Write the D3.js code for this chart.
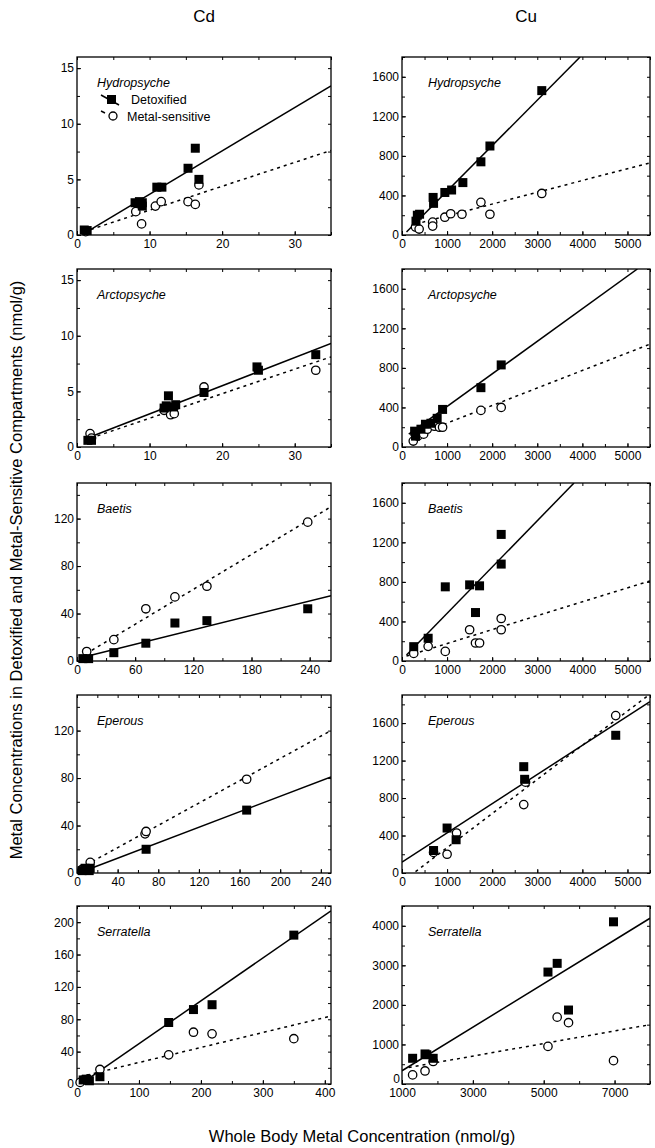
<!DOCTYPE html>
<html>
<head>
<meta charset="utf-8">
<script src="https://cdn.jsdelivr.net/npm/d3@7"></script>
<style>
  body { margin: 0; background: #fff; }
  svg text { font-family: Arial, "Liberation Sans", sans-serif; fill: #000; }
</style>
</head>
<body>
<div id="chart"></div>
<script>
// column / row labels
var metals = ["Cd", "Cu"];
var species = ["Hydropsyche", "Arctopsyche", "Baetis", "Eperous", "Serratella"];

// ---- Cd data ----
var hydroCdDetox = [[1,0.45],[1.4,0.4],[8,2.9],[8.6,3.0],[9,2.6],[9,2.9],[11,4.3],[11.7,4.3],[15.3,6.0],[16.3,7.8],[16.8,5.0]];
var hydroCdSens  = [[1.2,0.3],[8.1,2.1],[8.9,1.0],[10.8,2.6],[11.6,3.0],[15.3,3.0],[16.3,2.75],[16.8,4.5]];
var hydroCdDetoxLine = [[1,0.15],[35,13.4]];
var hydroCdSensLine  = [[1,0.3],[35,7.6]];

var arctoCdDetox = [[1.5,0.6],[2,0.6],[12,3.5],[12.3,3.7],[12.6,4.6],[13.3,3.6],[13.6,3.8],[17.5,4.9],[24.8,7.2],[25,6.9],[32.9,8.3]];
var arctoCdSens  = [[1.8,1.2],[2,0.8],[12,3.3],[12.9,2.9],[13.4,3.0],[17.5,5.4],[24.9,7.0],[32.9,6.9]];
var arctoCdDetoxLine = [[1,0.7],[35,9.3]];
var arctoCdSensLine  = [[1,0.6],[35,8.1]];

var baetisCdDetox = [[6,2],[12,2],[38,7],[71,15],[101,32],[134,34],[238,44]];
var baetisCdSens  = [[10,8],[38,18],[71,44],[101,54],[134,63],[238,117]];
var baetisCdDetoxLine = [[5,3],[262,55]];
var baetisCdSensLine  = [[3,3],[262,130]];

var eperCdDetox = [[5,2],[8,4],[12,2],[13,4],[68,20],[167,53]];
var eperCdSens  = [[5,3],[13,9],[67,33],[68,35],[167,79]];
var eperCdDetoxLine = [[5,1],[250,81]];
var eperCdSensLine  = [[3,4],[250,120]];

var serrCdDetox = [[10,5],[15,6],[20,4],[37,9],[148,76],[188,92],[218,98],[350,184]];
var serrCdSens  = [[5,2],[18,6],[37,18],[148,36],[188,64],[218,62],[350,56]];
var serrCdDetoxLine = [[8,1],[410,214]];
var serrCdSensLine  = [[5,9],[410,84]];

// ---- Cu data ----
var hydroCuDetox = [[310,140],[340,200],[390,210],[690,380],[700,320],[950,430],[1100,455],[1350,530],[1750,740],[1950,900],[3100,1460]];
var hydroCuSens  = [[300,80],[380,60],[680,130],[680,90],[950,180],[1080,215],[1330,210],[1750,330],[1950,210],[3100,420]];
var hydroCuDetoxLine = [[100,30],[3950,1800]];
var hydroCuSensLine  = [[300,110],[5500,730]];

var arctoCuDetox = [[280,160],[300,110],[420,180],[520,230],[640,240],[780,290],[900,380],[1750,600],[2200,830]];
var arctoCuSens  = [[250,60],[350,110],[480,130],[560,180],[720,210],[830,200],[900,200],[1750,370],[2200,400]];
var arctoCuDetoxLine = [[150,130],[5220,1800]];
var arctoCuSensLine  = [[200,100],[5500,1040]];

var baetisCuDetox = [[260,145],[580,230],[960,750],[1500,770],[1720,760],[1630,490],[2200,1280],[2200,980]];
var baetisCuSens  = [[260,77],[580,148],[960,97],[1500,316],[1630,182],[1720,182],[2200,430],[2200,316]];
var baetisCuDetoxLine = [[100,60],[3815,1800]];
var baetisCuSensLine  = [[100,50],[5500,810]];

var eperCuDetox = [[700,240],[1000,480],[1200,355],[2700,1135],[2720,1000],[4740,1470]];
var eperCuSens  = [[700,220],[1000,200],[1210,427],[2700,730],[2740,970],[4740,1680]];
var eperCuDetoxLine = [[0,117],[5500,1830]];
var eperCuSensLine  = [[300,15],[5500,1910]];

var serrCuDetox = [[1300,650],[1650,760],[1700,740],[1880,650],[5120,2830],[5380,3050],[5700,1870],[6970,4100]];
var serrCuSens  = [[1300,230],[1650,330],[1880,570],[5120,950],[5380,1690],[5700,1550],[6970,590]];
var serrCuDetoxLine = [[1000,335],[8000,4190]];
var serrCuSensLine  = [[1190,418],[8000,1500]];

// ---- axis domains and tick labels ----
var cdSmallDomainX = [0,35],  cdSmallDomainY = [0,16];
var cdSmallTicksX = [0,10,20,30], cdSmallTicksY = [0,5,10,15];
var baetisCdDomainX = [0,262], eperCdDomainX = [0,250], cdMidDomainY = [0,150];
var baetisCdTicksX = [0,60,120,180,240];
var eperCdTicksX = [0,40,80,120,160,200,240];
var cdMidTicksY = [0,40,80,120];
var serrCdDomainX = [0,410], serrCdDomainY = [0,220];
var serrCdTicksX = [0,100,200,300,400], serrCdTicksY = [0,40,80,120,160,200];
var cuDomainX = [0,5500], cuDomainY = [0,1800], eperCuDomainY = [0,1900];
var cuTicksX = [0,1000,2000,3000,4000,5000], cuTicksY = [0,400,800,1200,1600];
var serrCuDomainX = [1000,8000], serrCuDomainY = [0,4500];
var serrCuTicksX = [1000,3000,5000,7000], serrCuTicksY = [0,1000,2000,3000,4000];

var panels = [
  {col:0,row:0,xd:cdSmallDomainX,yd:cdSmallDomainY,xt:cdSmallTicksX,yt:cdSmallTicksY,xm:5,ym:2.5,
   detox:hydroCdDetox,sens:hydroCdSens,dl:hydroCdDetoxLine,sl:hydroCdSensLine,legend:true},
  {col:1,row:0,xd:cuDomainX,yd:cuDomainY,xt:cuTicksX,yt:cuTicksY,xm:500,ym:200,
   detox:hydroCuDetox,sens:hydroCuSens,dl:hydroCuDetoxLine,sl:hydroCuSensLine},
  {col:0,row:1,xd:cdSmallDomainX,yd:cdSmallDomainY,xt:cdSmallTicksX,yt:cdSmallTicksY,xm:5,ym:2.5,
   detox:arctoCdDetox,sens:arctoCdSens,dl:arctoCdDetoxLine,sl:arctoCdSensLine},
  {col:1,row:1,xd:cuDomainX,yd:cuDomainY,xt:cuTicksX,yt:cuTicksY,xm:500,ym:200,
   detox:arctoCuDetox,sens:arctoCuSens,dl:arctoCuDetoxLine,sl:arctoCuSensLine},
  {col:0,row:2,xd:baetisCdDomainX,yd:cdMidDomainY,xt:baetisCdTicksX,yt:cdMidTicksY,xm:30,ym:20,
   detox:baetisCdDetox,sens:baetisCdSens,dl:baetisCdDetoxLine,sl:baetisCdSensLine},
  {col:1,row:2,xd:cuDomainX,yd:cuDomainY,xt:cuTicksX,yt:cuTicksY,xm:500,ym:200,
   detox:baetisCuDetox,sens:baetisCuSens,dl:baetisCuDetoxLine,sl:baetisCuSensLine},
  {col:0,row:3,xd:eperCdDomainX,yd:cdMidDomainY,xt:eperCdTicksX,yt:cdMidTicksY,xm:20,ym:20,
   detox:eperCdDetox,sens:eperCdSens,dl:eperCdDetoxLine,sl:eperCdSensLine},
  {col:1,row:3,xd:cuDomainX,yd:eperCuDomainY,xt:cuTicksX,yt:cuTicksY,xm:500,ym:200,
   detox:eperCuDetox,sens:eperCuSens,dl:eperCuDetoxLine,sl:eperCuSensLine},
  {col:0,row:4,xd:serrCdDomainX,yd:serrCdDomainY,xt:serrCdTicksX,yt:serrCdTicksY,xm:50,ym:20,
   detox:serrCdDetox,sens:serrCdSens,dl:serrCdDetoxLine,sl:serrCdSensLine},
  {col:1,row:4,xd:serrCuDomainX,yd:serrCuDomainY,xt:serrCuTicksX,yt:serrCuTicksY,xm:1000,ym:500,
   detox:serrCuDetox,sens:serrCuSens,dl:serrCuDetoxLine,sl:serrCuSensLine,liftZero:true}
];

// layout
var colLeft = [77, 402], panelW = [254, 248];
var rowTop = [57, 269, 483, 695, 906], panelH = 178;

var svg = d3.select("#chart").append("svg")
    .attr("width", 655)
    .attr("height", 1148);

// column titles
metals.forEach(function(m, i) {
  svg.append("text")
    .attr("x", colLeft[i] + panelW[i] / 2)
    .attr("y", 22)
    .attr("text-anchor", "middle")
    .style("font-size", "17px")
    .text(m);
});

// axis titles
svg.append("text")
  .attr("transform", "translate(22,570) rotate(-90)")
  .attr("text-anchor", "middle")
  .style("font-size", "16.5px")
  .text("Metal Concentrations in Detoxified and Metal-Sensitive Compartments  (nmol/g)");

svg.append("text")
  .attr("x", 362)
  .attr("y", 1142)
  .attr("text-anchor", "middle")
  .style("font-size", "16.5px")
  .text("Whole Body Metal Concentration (nmol/g)");

panels.forEach(function(p, i) {
  var w = panelW[p.col], h = panelH;
  var g = svg.append("g")
      .attr("transform", "translate(" + colLeft[p.col] + "," + rowTop[p.row] + ")");

  var x = d3.scaleLinear().domain(p.xd).range([0, w]);
  var y = d3.scaleLinear().domain(p.yd).range([h, 0]);

  // minor ticks (half steps), inward, on all four sides
  var xMinor = d3.range(p.xd[0], p.xd[1] + 1e-9, p.xm);
  var yMinor = d3.range(p.yd[0], p.yd[1] + 1e-9, p.ym);

  g.append("g").attr("transform", "translate(0," + h + ")")
    .call(d3.axisBottom(x).tickValues(xMinor).tickSizeInner(-3).tickSizeOuter(0).tickFormat(""));
  g.append("g")
    .call(d3.axisTop(x).tickValues(xMinor).tickSizeInner(-3).tickSizeOuter(0).tickFormat(""));
  g.append("g")
    .call(d3.axisLeft(y).tickValues(yMinor).tickSizeInner(-3).tickSizeOuter(0).tickFormat(""));
  g.append("g").attr("transform", "translate(" + w + ",0)")
    .call(d3.axisRight(y).tickValues(yMinor).tickSizeInner(-3).tickSizeOuter(0).tickFormat(""));

  // labelled axes
  g.append("g").attr("class", "xlab").attr("transform", "translate(0," + h + ")")
    .call(d3.axisBottom(x).tickValues(p.xt).tickSizeInner(-4).tickSizeOuter(0).tickPadding(4).tickFormat(d3.format("d")));
  var yAx = g.append("g").attr("class", "ylab")
    .call(d3.axisLeft(y).tickValues(p.yt).tickSizeInner(-4).tickSizeOuter(0).tickPadding(3).tickFormat(d3.format("d")));

  g.selectAll(".domain").remove();
  g.selectAll(".tick line").attr("stroke", "#000").attr("stroke-width", 1);
  g.selectAll(".tick text").style("font-size", "12px").style("font-family", "Arial, 'Liberation Sans', sans-serif");

  // the y "0" sits just above the first x label where the x axis does not start at 0
  if (p.liftZero) {
    yAx.selectAll(".tick").filter(function(d) { return d === 0; })
      .select("text").attr("dy", "-0.15em").attr("x", -2);
  }

  // frame
  g.append("rect")
    .attr("width", w).attr("height", h)
    .attr("fill", "none").attr("stroke", "#000").attr("stroke-width", 1.3);

  var clipId = "clip" + i;
  g.append("clipPath").attr("id", clipId)
    .append("rect").attr("width", w).attr("height", h);

  var line = d3.line().x(function(d) { return x(d[0]); }).y(function(d) { return y(d[1]); });

  g.append("path")
    .attr("clip-path", "url(#" + clipId + ")")
    .attr("d", line(p.dl))
    .attr("fill", "none").attr("stroke", "#000").attr("stroke-width", 1.5);
  g.append("path")
    .attr("clip-path", "url(#" + clipId + ")")
    .attr("d", line(p.sl))
    .attr("fill", "none").attr("stroke", "#000").attr("stroke-width", 1.5)
    .attr("stroke-dasharray", "3,4");

  // open circles = metal-sensitive, filled squares = detoxified
  g.selectAll("circle.sens").data(p.sens).enter()
    .append("circle")
    .attr("class", "sens")
    .attr("cx", function(d) { return x(d[0]); })
    .attr("cy", function(d) { return y(d[1]); })
    .attr("r", 4.2)
    .attr("fill", "#fff").attr("stroke", "#000").attr("stroke-width", 1.3);

  g.selectAll("rect.detox").data(p.detox).enter()
    .append("rect")
    .attr("class", "detox")
    .attr("x", function(d) { return x(d[0]) - 4.5; })
    .attr("y", function(d) { return y(d[1]) - 4.5; })
    .attr("width", 9).attr("height", 9)
    .attr("fill", "#000");

  // species name
  g.append("text")
    .attr("x", p.col == 0 ? 20 : 26)
    .attr("y", 30)
    .style("font-size", "12.5px")
    .style("font-style", "italic")
    .text(species[p.row]);

  if (p.legend) {
    var lg = g.append("g").attr("transform", "translate(24,38)");
    lg.append("line").attr("x1", 0).attr("y1", 0).attr("x2", 18).attr("y2", 10)
      .attr("stroke", "#000").attr("stroke-width", 1.5);
    lg.append("rect").attr("x", 6).attr("y", 0).attr("width", 9).attr("height", 9).attr("fill", "#000");
    lg.append("text").attr("x", 30).attr("y", 9).style("font-size", "12.5px").text("Detoxified");
    lg.append("line").attr("x1", 0).attr("y1", 16).attr("x2", 4).attr("y2", 18)
      .attr("stroke", "#000").attr("stroke-width", 1.5);
    lg.append("circle").attr("cx", 12).attr("cy", 21).attr("r", 4)
      .attr("fill", "#fff").attr("stroke", "#000").attr("stroke-width", 1.3);
    lg.append("text").attr("x", 26).attr("y", 26).style("font-size", "12.5px").text("Metal-sensitive");
  }
});
</script>
</body>
</html>
